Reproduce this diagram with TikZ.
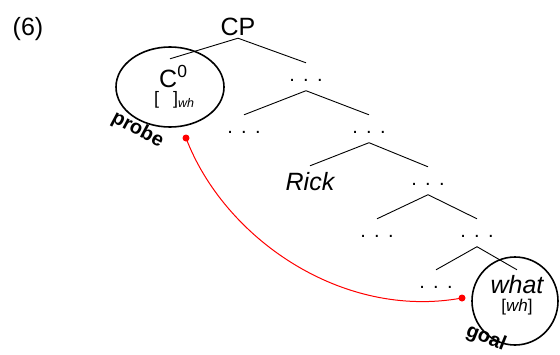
\documentclass[tikz,border=0pt]{standalone}
\usepackage{fontspec}
\setmainfont{Liberation Sans}
\usetikzlibrary{shapes.geometric}
\newcommand\tdots{\raisebox{-1.1pt}{.}\hspace{8.4pt}\raisebox{-1.1pt}{.}\hspace{8.4pt}\raisebox{-1.1pt}{.}}
\begin{document}
\begin{tikzpicture}[x=1pt,y=-1pt,
  word/.style={font=\fontsize{25}{25}\selectfont, inner sep=0pt, anchor=base},
  iword/.style={font=\fontsize{25}{25}\selectfont\itshape, inner sep=0pt, anchor=base},
  dotsn/.style={font=\fontsize{20}{20}\selectfont, inner sep=0pt, anchor=base, text height=17pt, text depth=10.5pt},
  branch/.style={line width=0.9pt},
  ring/.style={draw, ellipse, line width=1.6pt, inner sep=0pt},
  tag/.style={font=\fontsize{20}{20}\selectfont\bfseries, inner sep=0pt},
  link/.style={red, line width=1pt},
  spot/.style={circle, fill=red, inner sep=0pt, minimum size=7pt}]
\useasboundingbox (0,0) rectangle (560,354);
\node[word] (ex) at (28,35) {(6)};
\node[word, text depth=3pt] (cp) at (238,35) {CP};
\node[ring, minimum width=108pt, minimum height=80pt] (c0ring) at (170,87) {};
\node[word, anchor=base west, text height=28pt] (c0) at (159,87) {C\textsuperscript{0}};
\node[font=\fontsize{18}{18}\selectfont, inner sep=0pt, anchor=base west] (c0f) at (154,104) {[\hspace{14pt}]\raisebox{-3pt}{\fontsize{12.5}{12.5}\selectfont\itshape wh}};
\node[dotsn] (d1) at (306,80) {\tdots};
\node[dotsn] (d2) at (244,132) {\tdots};
\node[dotsn] (d3) at (369,132) {\tdots};
\node[iword, text height=24pt] (rick) at (310,190) {Rick};
\node[dotsn] (d4) at (428,184) {\tdots};
\node[dotsn] (d5) at (377,236) {\tdots};
\node[dotsn] (d6) at (477,236) {\tdots};
\node[dotsn] (d7) at (436,287) {\tdots};
\node[ring, minimum width=86pt, minimum height=88pt] (whring) at (515,301) {};
\node[iword, text height=23pt] (what) at (517,293) {what};
\node[font=\fontsize{17}{17}\selectfont, inner sep=0pt, anchor=base] (whf) at (517,311.5) {[\textit{wh}]};
\node[tag, rotate=-28] (probe) at (137.5,130) {probe};
\node[tag, rotate=-22] (goal) at (486,338) {goal};
\draw[branch] (cp.south) -- (c0ring.center |- c0.north);
\draw[branch] (cp.south) -- (d1.north);
\draw[branch] (d1.south) -- (d2.north);
\draw[branch] (d1.south) -- (d3.north);
\draw[branch] (d3.south) -- (rick.north);
\draw[branch] (d3.south) -- (d4.north);
\draw[branch] (d4.south) -- (d5.north);
\draw[branch] (d4.south) -- (d6.north);
\draw[branch] (d6.south) -- (d7.north);
\draw[branch] (d6.south) -- (what.north);
\node[spot] (pa) at (186,138) {};
\node[spot] (pb) at (462,298) {};
\draw[link] (pa.center) .. controls (224,238) and (342,320) .. (pb.center);
\end{tikzpicture}
\end{document}
